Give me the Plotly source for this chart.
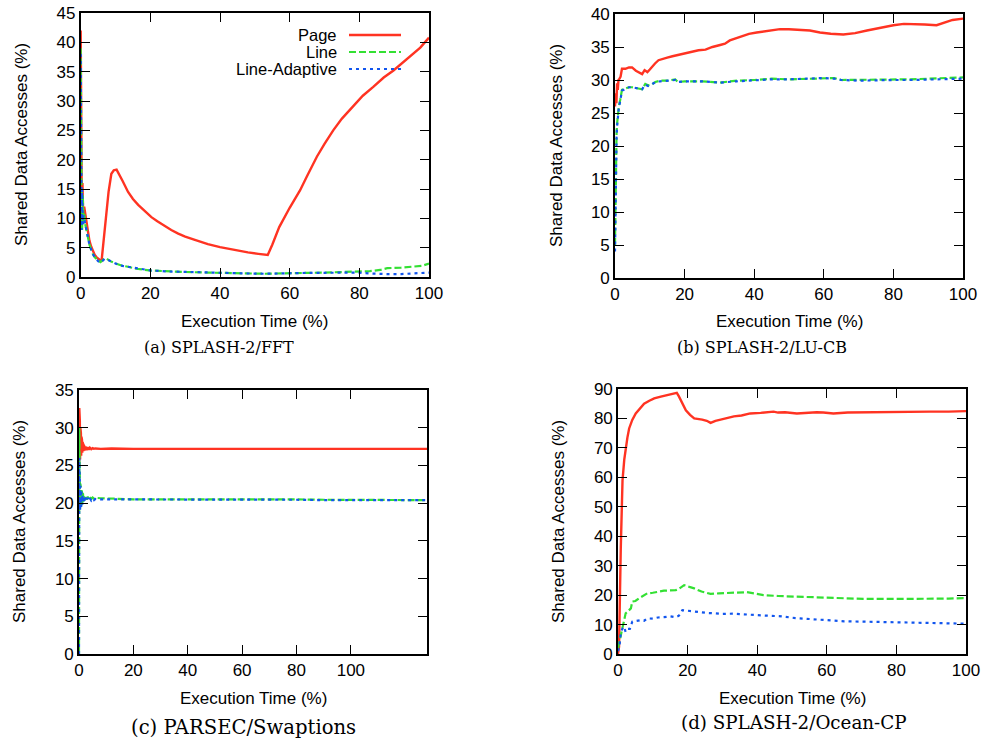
import plotly.graph_objects as go

# ── colours / fonts ───────────────────────────────────────────
RED = '#ff3322'
GREEN = '#33e033'
BLUE = '#1155ee'
SANS = 'Liberation Sans, Arial, sans-serif'
SERIF = 'DejaVu Serif, Liberation Serif, serif'

series_names = ['Page', 'Line', 'Line-Adaptive']
captions = ['(a) SPLASH-2/FFT', '(b) SPLASH-2/LU-CB',
            '(c) PARSEC/Swaptions', '(d) SPLASH-2/Ocean-CP']
x_title = 'Execution Time (%)'
y_title = 'Shared Data Accesses (%)'

# ── (a) SPLASH-2/FFT ──────────────────────────────────────────
fft_page_x = [0, 0.15, 0.3, 0.5, 0.7, 1.0, 1.3, 1.6, 2.0, 2.5, 3.0, 3.5, 4.0, 4.5,
              5.0, 5.5, 6.0, 7.0, 8.0, 8.8, 9.5, 10.3, 11, 12, 13.6, 15, 16.5, 18.4,
              20.3, 22, 24, 26, 28, 30, 33, 36.5, 40, 44, 48, 51, 53.7, 55, 57, 60,
              63, 65, 67.8, 70, 72.5, 75, 78.3, 81, 84, 87, 89.8, 92.5, 95.5, 97.5, 100]
fft_page_y = [42, 17, 13, 16, 11, 12, 10.8, 9.2, 7.8, 6.2, 5.2, 4.4, 3.8, 3.4,
              3.1, 2.9, 2.8, 8.5, 14.5, 17.6, 18.2, 18.3, 17.6, 16.4, 14.5, 13.3, 12.3, 11.2,
              10.2, 9.5, 8.7, 8.0, 7.4, 6.9, 6.3, 5.6, 5.1, 4.6, 4.2, 3.95, 3.75, 5.5, 8.5, 11.8,
              14.8, 17.2, 20.5, 22.7, 25, 27, 29.2, 30.9, 32.4, 34, 35.2, 36.6, 38, 39.1, 40.8]

fft_line_x = [0, 0.1, 0.25, 0.4, 0.6, 0.8, 1.0, 1.3, 1.6, 2.0, 2.5, 3.0, 3.5, 4.0,
              4.5, 5.0, 5.7, 6.3, 6.9, 7.5, 8.5, 10, 12, 13.6, 16, 20.3, 25, 30, 36.5,
              42, 48, 53, 56, 60, 65, 70, 75, 80, 83, 86, 88, 92, 95, 98, 100]
fft_line_y = [39, 20, 12, 8, 14, 9, 11, 9, 8.3, 7, 5.5, 4.6, 3.9, 3.4,
              3.0, 2.8, 2.55, 2.9, 3.2, 3.1, 2.7, 2.3, 1.9, 1.75, 1.4, 1.1, 0.95, 0.85, 0.75,
              0.65, 0.6, 0.55, 0.6, 0.7, 0.7, 0.75, 0.8, 0.85, 1.0, 1.2, 1.5, 1.6, 1.7, 1.9, 2.3]
fft_adapt_y = [38, 14, 8, 15, 9, 10.5, 10, 8.8, 8.2, 7, 5.5, 4.6, 3.9, 3.4,
               3.0, 2.7, 2.45, 2.8, 3.1, 3.0, 2.7, 2.3, 1.9, 1.75, 1.4, 1.1, 0.95, 0.85, 0.75,
               0.65, 0.6, 0.55, 0.6, 0.7, 0.7, 0.72, 0.72, 0.75, 0.6, 0.5, 0.5, 0.5, 0.55, 0.65, 0.75]

# ── (b) SPLASH-2/LU-CB ────────────────────────────────────────
lu_page_x = [0, 0.2, 0.4, 0.6, 0.8, 1.0, 1.3, 1.6, 2.0, 3.0, 4.0, 4.9, 6.0, 7.0, 7.8,
             8.5, 9.3, 10.0, 10.6, 11.5, 12.5, 13.5, 15, 16.5, 18.3, 20, 22, 24, 26, 28,
             30.2, 31.6, 33, 35, 37, 38.5, 40.7, 44, 47.4, 50, 53.2, 56, 58.9, 62, 65.6,
             69, 72.4, 76, 80, 83, 85.8, 89, 92.4, 95, 97, 100]
lu_page_y = [26, 28, 26.5, 29.5, 28.5, 30, 30.2, 30.5, 31.7, 31.7, 31.9, 31.9, 31.4, 31.1, 30.9,
             31.5, 31.2, 31.6, 32.0, 32.5, 33.0, 33.2, 33.4, 33.6, 33.8, 34.0, 34.2, 34.5, 34.6, 35.0,
             35.3, 35.5, 36.0, 36.4, 36.8, 37.0, 37.2, 37.4, 37.7, 37.7, 37.6, 37.5, 37.2, 37.0, 36.9,
             37.1, 37.5, 37.9, 38.3, 38.5, 38.5, 38.4, 38.3, 38.7, 39.1, 39.3]

lu_line_x = [0, 0.1, 0.2, 0.3, 0.45, 0.6, 0.8, 1.1, 1.5, 2.0, 3.0, 4.0, 4.9, 6.0, 7.8,
             8.7, 9.5, 10.5, 11.6, 13, 15, 17.3, 18, 20, 25, 30, 35, 40, 45, 50, 55,
             60, 63, 65, 70, 75, 80, 85, 90, 95, 100]
lu_line_y = [5, 12, 17, 20.4, 22, 23.4, 24.5, 26, 27, 28.5, 28.7, 28.9, 28.9, 28.8, 28.6,
             29.4, 29.2, 29.3, 29.7, 29.9, 29.9, 30.1, 29.7, 29.8, 29.8, 29.6, 29.9, 30.0, 30.2, 30.1, 30.2,
             30.3, 30.3, 30.0, 30.0, 30.0, 30.1, 30.1, 30.2, 30.3, 30.4]
lu_adapt_y = [4, 11, 16, 20, 21.5, 23, 24.2, 25.8, 26.8, 28.4, 28.6, 28.9, 28.9, 28.8, 28.6,
              29.3, 29.1, 29.3, 29.7, 29.8, 29.9, 30.0, 29.7, 29.8, 29.8, 29.6, 29.8, 30.0, 30.1, 30.1, 30.2,
              30.3, 30.2, 30.0, 29.9, 30.0, 30.0, 30.0, 30.1, 30.2, 30.2]

# ── (c) PARSEC/Swaptions ──────────────────────────────────────
sw_x = [0, 0.1, 0.2, 0.3, 0.4, 0.5, 0.6, 0.7, 0.8, 0.9, 1.0, 1.1, 1.2, 1.3, 1.4,
        1.5, 1.6, 1.7, 1.8, 1.9, 2.0, 2.4, 2.8, 3.2, 3.6, 4.0, 4.5, 5, 5.5, 6,
        8, 12, 20, 30, 40, 50, 60, 70, 80, 90, 100, 110, 120, 128]
sw_page_y = [24.8, 32.6, 25.5, 31.0, 25.8, 30.0, 26.0, 29.3, 26.3, 28.8, 26.5, 28.4, 26.7, 28.1, 26.8,
             27.9, 26.9, 27.7, 27.0, 27.6, 27.0, 27.5, 27.05, 27.4, 27.1, 27.35, 27.15, 27.3, 27.2, 27.25,
             27.2, 27.25, 27.2, 27.25, 27.2, 27.2, 27.2, 27.2, 27.2, 27.15, 27.2, 27.2, 27.2, 27.2]
sw_line_y = [0, 30, 19.0, 23.5, 19.2, 22.6, 19.5, 22.0, 19.7, 21.7, 19.9, 21.5, 20.0, 21.3, 20.1,
             21.2, 20.2, 21.1, 20.3, 21.0, 20.4, 20.9, 20.45, 20.85, 20.5, 20.8, 20.55, 20.75, 20.6, 20.7,
             20.65, 20.6, 20.5, 20.5, 20.5, 20.55, 20.5, 20.5, 20.5, 20.45, 20.45, 20.45, 20.4, 20.4]
sw_adapt_y = [0, 26, 18.8, 23, 19.0, 22.3, 19.3, 21.8, 19.5, 21.5, 19.7, 21.3, 19.8, 21.1, 19.9,
              21.0, 20.0, 20.9, 20.1, 20.8, 20.2, 20.75, 20.25, 20.7, 20.3, 20.65, 20.35, 20.6, 20.4, 20.55,
              20.5, 20.5, 20.5, 20.45, 20.5, 20.5, 20.45, 20.45, 20.45, 20.4, 20.4, 20.4, 20.4, 20.4]

# ── (d) SPLASH-2/Ocean-CP ─────────────────────────────────────
oc_page_x = [0, 0.3, 0.8, 1.3, 1.8, 2.2, 2.7, 3.2, 4.1, 5.1, 6.2, 7.5, 9, 10.4, 12.3,
             14.2, 15.6, 16.9, 17.5, 18.5, 19.5, 20.7, 21.9, 24.2, 25.5, 26.6, 28, 29.5,
             31.5, 33.3, 35.5, 38, 41, 44.7, 46, 48, 51.4, 54, 57.1, 59, 61.9, 66, 70.5,
             75, 80.1, 85, 89.7, 95, 99.3, 100]
oc_page_y = [0, 2.5, 36, 59, 66, 70.3, 73.5, 76.6, 79.5, 81.7, 83.2, 85, 86, 86.8, 87.4,
             87.9, 88.3, 88.7, 87.5, 85, 82.8, 81.2, 80, 79.6, 79.2, 78.5, 79.2, 79.6,
             80.2, 80.7, 81.0, 81.7, 81.9, 82.3, 82, 82.1, 81.7, 82, 82.1, 82, 81.7, 82, 82.1,
             82, 82.1, 82.2, 82.3, 82.3, 82.5, 82.5]

oc_line_x = [0, 0.3, 0.8, 1.3, 1.8, 2.2, 2.7, 3.2, 3.7, 4.1, 5, 6, 7, 8.4, 10, 11.5,
             13.2, 15, 16.6, 17.6, 19, 20.5, 21.9, 24, 26.6, 29, 31, 34.3, 37, 39.5, 41.8,
             46, 51.4, 56, 60.9, 65, 70.5, 75, 80, 85, 90, 95, 99.3, 100]
oc_line_y = [2, 3.7, 6, 9, 12, 13.8, 14.3, 15, 15.5, 17.8, 18, 18.9, 19.5, 20.6, 20.8, 21.2,
             21.5, 21.6, 21.7, 22.2, 23.4, 22.8, 22.3, 21.2, 20.4, 20.6, 20.7, 21, 21, 20.5, 20,
             19.7, 19.5, 19.3, 19, 18.8, 18.7, 18.7, 18.7, 18.7, 18.7, 18.8, 19, 19]

oc_adapt_x = [0, 0.4, 0.8, 1.2, 1.7, 2.2, 2.8, 3.4, 4.1, 5, 6.5, 7.5, 8.4, 10, 11.5,
              13.2, 15, 16.6, 17.5, 18.5, 20, 21.5, 23.8, 26, 28, 30, 33.2, 36, 39.8,
              43, 47, 51, 55, 59, 62, 65, 70, 75, 80, 85, 90, 95, 100]
oc_adapt_y = [1, 2.5, 7, 8.5, 9.3, 7.5, 8.5, 8.5, 11, 11.2, 11.5, 11.3, 12.1, 12.0, 12.4,
              12.5, 12.8, 12.5, 13.0, 14.9, 14.7, 14.4, 14.0, 13.9, 13.8, 13.6, 13.7, 13.4, 13.2,
              13, 12.8, 12.2, 11.9, 11.5, 11.3, 11.1, 11, 10.9, 10.8, 10.6, 10.5, 10.4, 10.3]

# ── panel setup (pixel boxes of the 981x742 page) ─────────────
W, H = 981, 742
panels = [
    dict(box=(80.7, 429, 13, 277), xr=[0, 100], yr=[0, 45], dy=5, xt=[0, 20, 40, 60, 80, 100]),
    dict(box=(615, 963, 14, 278), xr=[0, 100], yr=[0, 40], dy=5, xt=[0, 20, 40, 60, 80, 100]),
    dict(box=(79, 427, 390, 654), xr=[0, 128], yr=[0, 35], dy=5, xt=[0, 20, 40, 60, 80, 100]),
    dict(box=(618, 966, 389, 654), xr=[0, 100], yr=[0, 90], dy=10, xt=[0, 20, 40, 60, 80, 100]),
]

data = [
    [(fft_page_x, fft_page_y), (fft_line_x, fft_line_y), (fft_line_x, fft_adapt_y)],
    [(lu_page_x, lu_page_y), (lu_line_x, lu_line_y), (lu_line_x, lu_adapt_y)],
    [(sw_x, sw_page_y), (sw_x, sw_line_y), (sw_x, sw_adapt_y)],
    [(oc_page_x, oc_page_y), (oc_line_x, oc_line_y), (oc_adapt_x, oc_adapt_y)],
]

line_styles = [
    dict(color=RED, width=2.4, dash='solid'),
    dict(color=GREEN, width=2.2, dash='7px,3px'),
    dict(color=BLUE, width=2.2, dash='3px,4px'),
]

fig = go.Figure()

for i, series in enumerate(data):
    suffix = '' if i == 0 else str(i + 1)
    for j, (xs, ys) in enumerate(series):
        fig.add_trace(go.Scatter(
            x=xs, y=ys, mode='lines', name=series_names[j],
            line=line_styles[j], showlegend=False,
            xaxis='x' + suffix, yaxis='y' + suffix,
        ))

axis_common = dict(
    showline=True, linecolor='black', linewidth=1.6, mirror='allticks',
    ticks='inside', ticklen=9, tickwidth=1.4, tickcolor='black',
    showgrid=False, zeroline=False, automargin=False,
    tickfont=dict(family=SANS, size=17, color='black'),
)

layout = dict(
    width=W, height=H,
    margin=dict(l=0, r=0, t=0, b=0, pad=0, autoexpand=False),
    paper_bgcolor='white', plot_bgcolor='white', showlegend=False,
)

annotations = []
for i, p in enumerate(panels):
    x0, x1, y0, y1 = p['box']
    suffix = '' if i == 0 else str(i + 1)
    layout['xaxis' + suffix] = dict(
        axis_common, domain=[x0 / W, x1 / W], range=p['xr'],
        tickmode='array', tickvals=p['xt'], anchor='y' + suffix,
    )
    layout['yaxis' + suffix] = dict(
        axis_common, domain=[1 - y1 / H, 1 - y0 / H], range=p['yr'],
        dtick=p['dy'], tick0=0, anchor='x' + suffix,
    )

# axis titles and captions placed by pixel centre
x_title_pos = [(255, 321), (789, 321), (253, 698), (792, 698)]
y_title_pos = [(21, 145), (556, 146), (19, 522), (558, 522)]
caption_pos = [(219, 348), (762, 348), (243, 727), (794, 722)]
caption_size = [16, 16, 19.6, 18.3]

for i in range(4):
    xp, yp = x_title_pos[i]
    annotations.append(dict(text=x_title, x=xp / W, y=1 - yp / H, xref='paper', yref='paper',
                            showarrow=False, xanchor='center', yanchor='middle',
                            font=dict(family=SANS, size=17, color='black')))
    xp, yp = y_title_pos[i]
    annotations.append(dict(text=y_title, x=xp / W, y=1 - yp / H, xref='paper', yref='paper',
                            showarrow=False, xanchor='center', yanchor='middle', textangle=-90,
                            font=dict(family=SANS, size=17, color='black')))
    xp, yp = caption_pos[i]
    annotations.append(dict(text=captions[i], x=xp / W, y=1 - yp / H, xref='paper', yref='paper',
                            showarrow=False, xanchor='center', yanchor='middle',
                            font=dict(family=SERIF, size=caption_size[i], color='black')))

# gnuplot-style key in panel (a): text right-aligned, sample to the right
shapes = []
key_rows = [35, 52, 69]
for j, name in enumerate(series_names):
    yk = 1 - key_rows[j] / H
    annotations.append(dict(text=name, x=338 / W, y=yk, xref='paper', yref='paper',
                            showarrow=False, xanchor='right', yanchor='middle', borderpad=0,
                            font=dict(family=SANS, size=16.5, color='black')))
    shapes.append(dict(type='line', xref='paper', yref='paper',
                       x0=349 / W, x1=401 / W, y0=yk, y1=yk, line=line_styles[j]))

layout['annotations'] = annotations
layout['shapes'] = shapes
fig.update_layout(**layout)

# drop the default 8px body margin so the figure sits at the window's corner
fig.write_html('out.html', config={'displayModeBar': False},
               post_script="document.body.style.margin='0';")
